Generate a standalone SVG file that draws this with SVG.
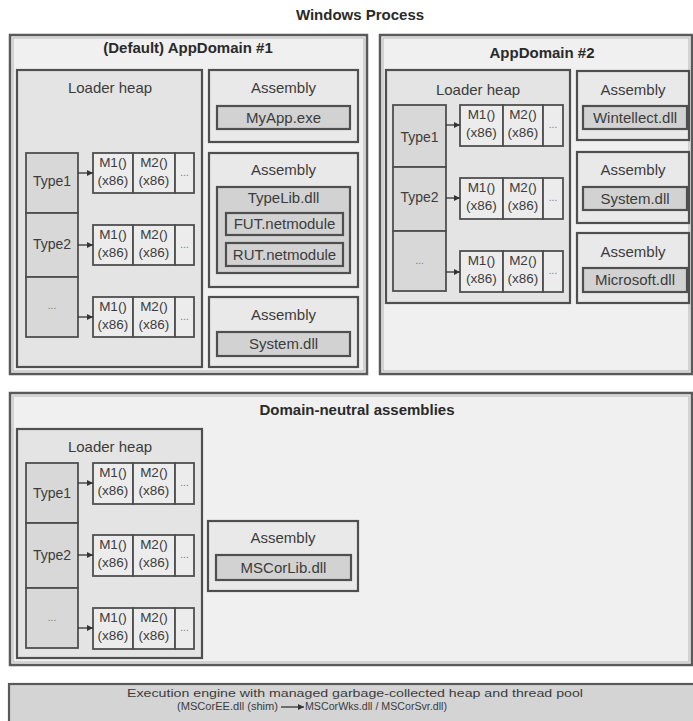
<svg xmlns="http://www.w3.org/2000/svg" width="693" height="721" viewBox="0 0 693 721">
<defs>
<style>
text{font-family:"Liberation Sans",Arial,sans-serif;fill:#3c3c3c;text-anchor:middle}
.title{font-weight:bold;font-size:15px;fill:#2a2a2a}
.lbl{font-size:15px}
.typ{font-size:14px}
.mt{font-size:13.5px}
.dots{font-size:10px;fill:#777}
.bar{font-size:10px;text-anchor:start}
.outer{fill:#f0f0f0;stroke:#5a5a5a;stroke-width:2.5}
.outin{fill:none;stroke:#b5b5b5;stroke-width:1}
.heap{fill:#e4e4e4;stroke:#4f4f4f;stroke-width:2.2}
.asm{fill:#e9e9e9;stroke:#4f4f4f;stroke-width:2.2}
.dll{fill:#d2d2d2;stroke:#4f4f4f;stroke-width:2.2}
.type{fill:#d8d8d8;stroke:#4f4f4f;stroke-width:1.8}
.m{fill:#ececec;stroke:#4f4f4f;stroke-width:1.8}
.conn{stroke:#333;stroke-width:1.3;fill:none;marker-end:url(#ah)}
</style>
<marker id="ah" viewBox="0 0 8 8" refX="8" refY="4" markerWidth="6" markerHeight="6" markerUnits="userSpaceOnUse" orient="auto">
<path d="M0,0 L8,4 L0,8 z" fill="#333"/>
</marker>
</defs>
<rect width="693" height="721" fill="#ffffff"/>
<text class="title" x="360" y="20">Windows Process</text>

<!-- AppDomain #1 -->
<g id="appdomain1">
<rect class="outer" x="10" y="35" width="357" height="339"/>
<rect class="outin" x="13" y="38" width="351" height="333"/>
<text class="title" x="188" y="53">(Default) AppDomain #1</text>
</g>
<g id="ad1-heap">
<rect class="heap" x="17" y="70" width="185" height="297"/>
<text class="lbl" x="110" y="93">Loader heap</text>
</g>
<g id="ad1-type1"><rect class="type" x="26" y="153" width="52" height="60"/><text class="typ" x="52" y="186">Type1</text></g>
<g id="ad1-type2"><rect class="type" x="26" y="213" width="52" height="64"/><text class="typ" x="52" y="249">Type2</text></g>
<g id="ad1-type3"><rect class="type" x="26" y="277" width="52" height="60"/><text class="dots" x="52" y="309">...</text></g>
<g id="ad1-methods1">
<rect class="m" x="93" y="153" width="40" height="40"/><rect class="m" x="133" y="153" width="42" height="40"/><rect class="m" x="175" y="153" width="19" height="40"/>
<text class="mt" x="113" y="167">M1()</text><text class="mt" x="113" y="185">(x86)</text>
<text class="mt" x="154" y="167">M2()</text><text class="mt" x="154" y="185">(x86)</text>
<text class="dots" x="184.5" y="176">...</text>
</g>
<g id="ad1-methods2">
<rect class="m" x="93" y="225" width="40" height="40"/><rect class="m" x="133" y="225" width="42" height="40"/><rect class="m" x="175" y="225" width="19" height="40"/>
<text class="mt" x="113" y="239">M1()</text><text class="mt" x="113" y="257">(x86)</text>
<text class="mt" x="154" y="239">M2()</text><text class="mt" x="154" y="257">(x86)</text>
<text class="dots" x="184.5" y="248">...</text>
</g>
<g id="ad1-methods3">
<rect class="m" x="93" y="297" width="40" height="40"/><rect class="m" x="133" y="297" width="42" height="40"/><rect class="m" x="175" y="297" width="19" height="40"/>
<text class="mt" x="113" y="311">M1()</text><text class="mt" x="113" y="329">(x86)</text>
<text class="mt" x="154" y="311">M2()</text><text class="mt" x="154" y="329">(x86)</text>
<text class="dots" x="184.5" y="320">...</text>
</g>
<g id="ad1-asm1">
<rect class="asm" x="209" y="70" width="149" height="72"/>
<text class="lbl" x="283.5" y="93">Assembly</text>
<rect class="dll" x="217" y="106" width="133" height="23"/>
<text class="lbl" x="283.5" y="123">MyApp.exe</text>
</g>
<g id="ad1-asm2">
<rect class="asm" x="209" y="153" width="149" height="134"/>
<text class="lbl" x="283.5" y="175">Assembly</text>
<rect class="dll" x="217" y="187" width="133" height="86"/>
<text class="lbl" x="283.5" y="203">TypeLib.dll</text>
<rect class="dll" x="226" y="213" width="117" height="22"/>
<text class="lbl" x="284.5" y="229">FUT.netmodule</text>
<rect class="dll" x="226" y="243" width="117" height="23"/>
<text class="lbl" x="284.5" y="260">RUT.netmodule</text>
</g>
<g id="ad1-asm3">
<rect class="asm" x="209" y="297" width="149" height="70"/>
<text class="lbl" x="283.5" y="320">Assembly</text>
<rect class="dll" x="217" y="332" width="133" height="24"/>
<text class="lbl" x="283.5" y="349">System.dll</text>
</g>

<!-- AppDomain #2 -->
<g id="appdomain2">
<rect class="outer" x="380" y="35" width="312" height="339"/>
<rect class="outin" x="383" y="38" width="306" height="333"/>
<text class="title" x="542" y="58">AppDomain #2</text>
</g>
<g id="ad2-heap">
<rect class="heap" x="386" y="70" width="184" height="233"/>
<text class="lbl" x="478" y="95">Loader heap</text>
</g>
<g id="ad2-type1"><rect class="type" x="393" y="105" width="53" height="62"/><text class="typ" x="419.5" y="142">Type1</text></g>
<g id="ad2-type2"><rect class="type" x="393" y="167" width="53" height="64"/><text class="typ" x="419.5" y="202">Type2</text></g>
<g id="ad2-type3"><rect class="type" x="393" y="231" width="53" height="60"/><text class="dots" x="419.5" y="264">...</text></g>
<g id="ad2-methods1">
<rect class="m" x="460" y="105" width="43" height="41"/><rect class="m" x="503" y="105" width="40" height="41"/><rect class="m" x="543" y="105" width="20" height="41"/>
<text class="mt" x="481.5" y="119">M1()</text><text class="mt" x="481.5" y="137">(x86)</text>
<text class="mt" x="523" y="119">M2()</text><text class="mt" x="523" y="137">(x86)</text>
<text class="dots" x="553" y="128">...</text>
</g>
<g id="ad2-methods2">
<rect class="m" x="460" y="178" width="43" height="41"/><rect class="m" x="503" y="178" width="40" height="41"/><rect class="m" x="543" y="178" width="20" height="41"/>
<text class="mt" x="481.5" y="192">M1()</text><text class="mt" x="481.5" y="210">(x86)</text>
<text class="mt" x="523" y="192">M2()</text><text class="mt" x="523" y="210">(x86)</text>
<text class="dots" x="553" y="201">...</text>
</g>
<g id="ad2-methods3">
<rect class="m" x="460" y="251" width="43" height="41"/><rect class="m" x="503" y="251" width="40" height="41"/><rect class="m" x="543" y="251" width="20" height="41"/>
<text class="mt" x="481.5" y="265">M1()</text><text class="mt" x="481.5" y="283">(x86)</text>
<text class="mt" x="523" y="265">M2()</text><text class="mt" x="523" y="283">(x86)</text>
<text class="dots" x="553" y="274">...</text>
</g>
<g id="ad2-asm1">
<rect class="asm" x="577" y="71" width="112" height="69"/>
<text class="lbl" x="633" y="95">Assembly</text>
<rect class="dll" x="583" y="106" width="104" height="23"/>
<text class="lbl" x="635" y="123">Wintellect.dll</text>
</g>
<g id="ad2-asm2">
<rect class="asm" x="577" y="152" width="112" height="71"/>
<text class="lbl" x="633" y="175">Assembly</text>
<rect class="dll" x="583" y="187" width="104" height="23"/>
<text class="lbl" x="635" y="204">System.dll</text>
</g>
<g id="ad2-asm3">
<rect class="asm" x="577" y="233" width="112" height="70"/>
<text class="lbl" x="633" y="257">Assembly</text>
<rect class="dll" x="583" y="268" width="104" height="24"/>
<text class="lbl" x="635" y="285">Microsoft.dll</text>
</g>

<!-- Domain-neutral -->
<g id="domain-neutral">
<rect class="outer" x="10" y="393" width="682" height="272"/>
<rect class="outin" x="13" y="396" width="676" height="266"/>
<text class="title" x="357" y="415">Domain-neutral assemblies</text>
</g>
<g id="dn-heap">
<rect class="heap" x="17" y="429" width="185" height="229"/>
<text class="lbl" x="110" y="452">Loader heap</text>
</g>
<g id="dn-type1"><rect class="type" x="26" y="463" width="52" height="60"/><text class="typ" x="52" y="498">Type1</text></g>
<g id="dn-type2"><rect class="type" x="26" y="523" width="52" height="65"/><text class="typ" x="52" y="560">Type2</text></g>
<g id="dn-type3"><rect class="type" x="26" y="588" width="52" height="60"/><text class="dots" x="52" y="621">...</text></g>
<g id="dn-methods1">
<rect class="m" x="93" y="463" width="40" height="41"/><rect class="m" x="133" y="463" width="42" height="41"/><rect class="m" x="175" y="463" width="19" height="41"/>
<text class="mt" x="113" y="477">M1()</text><text class="mt" x="113" y="495">(x86)</text>
<text class="mt" x="154" y="477">M2()</text><text class="mt" x="154" y="495">(x86)</text>
<text class="dots" x="184.5" y="486">...</text>
</g>
<g id="dn-methods2">
<rect class="m" x="93" y="535" width="40" height="41"/><rect class="m" x="133" y="535" width="42" height="41"/><rect class="m" x="175" y="535" width="19" height="41"/>
<text class="mt" x="113" y="549">M1()</text><text class="mt" x="113" y="567">(x86)</text>
<text class="mt" x="154" y="549">M2()</text><text class="mt" x="154" y="567">(x86)</text>
<text class="dots" x="184.5" y="558">...</text>
</g>
<g id="dn-methods3">
<rect class="m" x="93" y="608" width="40" height="41"/><rect class="m" x="133" y="608" width="42" height="41"/><rect class="m" x="175" y="608" width="19" height="41"/>
<text class="mt" x="113" y="622">M1()</text><text class="mt" x="113" y="640">(x86)</text>
<text class="mt" x="154" y="622">M2()</text><text class="mt" x="154" y="640">(x86)</text>
<text class="dots" x="184.5" y="631">...</text>
</g>
<g id="dn-asm">
<rect class="asm" x="208" y="521" width="150" height="70"/>
<text class="lbl" x="283" y="543">Assembly</text>
<rect class="dll" x="216" y="555" width="135" height="25"/>
<text class="lbl" x="283.5" y="573">MSCorLib.dll</text>
</g>

<!-- Execution engine -->
<g id="exec-engine">
<rect x="9" y="684" width="690" height="45" fill="#d4d4d4" stroke="#5a5a5a" stroke-width="2.2"/>
<text class="bar" x="127" y="697" textLength="456" lengthAdjust="spacingAndGlyphs">Execution engine with managed garbage-collected heap and thread pool</text>
<text class="bar" x="177" y="710" textLength="101" lengthAdjust="spacingAndGlyphs">(MSCorEE.dll (shim)</text>
<text class="bar" x="305" y="710" textLength="142" lengthAdjust="spacingAndGlyphs">MSCorWks.dll / MSCorSvr.dll)</text>
</g>

<g id="connectors">
<line class="conn" x1="78" y1="173" x2="93" y2="173"/>
<line class="conn" x1="78" y1="245" x2="93" y2="245"/>
<line class="conn" x1="78" y1="317" x2="93" y2="317"/>
<line class="conn" x1="446" y1="125" x2="460" y2="125"/>
<line class="conn" x1="446" y1="198" x2="460" y2="198"/>
<line class="conn" x1="446" y1="272" x2="460" y2="272"/>
<line class="conn" x1="78" y1="483" x2="93" y2="483"/>
<line class="conn" x1="78" y1="555" x2="93" y2="555"/>
<line class="conn" x1="78" y1="628" x2="93" y2="628"/>
<line class="conn" x1="281" y1="707" x2="304" y2="707"/>
</g>
</svg>
